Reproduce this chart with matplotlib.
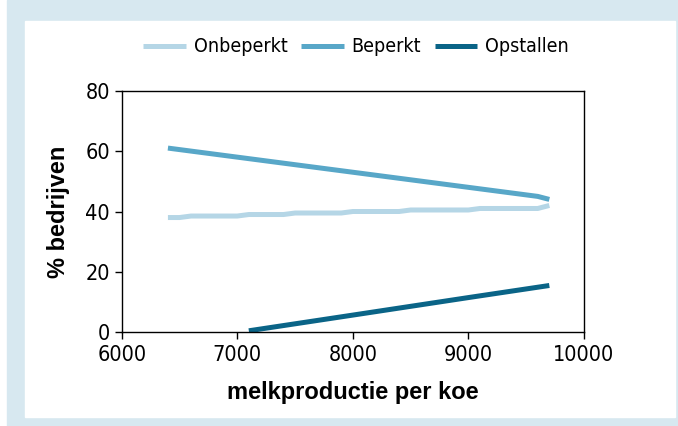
import matplotlib
matplotlib.use("Agg")
import matplotlib.pyplot as plt
from matplotlib.patches import Rectangle

# data
x_vals = [6400, 6500, 6600, 6700, 6800, 6900, 7000, 7100, 7200, 7300, 7400, 7500,
          7600, 7700, 7800, 7900, 8000, 8100, 8200, 8300, 8400, 8500, 8600, 8700,
          8800, 8900, 9000, 9100, 9200, 9300, 9400, 9500, 9600, 9700]
onbeperkt = [38, 38, 38.5, 38.5, 38.5, 38.5, 38.5, 39, 39, 39, 39, 39.5,
             39.5, 39.5, 39.5, 39.5, 40, 40, 40, 40, 40, 40.5, 40.5, 40.5,
             40.5, 40.5, 40.5, 41, 41, 41, 41, 41, 41, 42]
beperkt = [61, 60.5, 60, 59.5, 59, 58.5, 58, 57.5, 57, 56.5, 56, 55.5,
           55, 54.5, 54, 53.5, 53, 52.5, 52, 51.5, 51, 50.5, 50, 49.5,
           49, 48.5, 48, 47.5, 47, 46.5, 46, 45.5, 45, 44]
opst_x = [7100, 8000, 9000, 9700]
opstallen = [0.5, 5.7, 11.5, 15.5]

labels = ["Onbeperkt", "Beperkt", "Opstallen"]
colors = ["#b5d6e6", "#58a7c8", "#0a6487"]

bold = ["Liberation Sans", "DejaVu Sans"]
narrow = dict(family="DejaVu Sans", stretch="condensed")

fig = plt.figure(figsize=(6.78, 4.26), dpi=100)
fig.patches.append(Rectangle((7 / 678, 0), 671 / 678, 1, transform=fig.transFigure,
                             color="#d7e8f0", zorder=0))
fig.patches.append(Rectangle((25 / 678, 9 / 426), 650 / 678, 396 / 426,
                             transform=fig.transFigure, color="white", zorder=1))

ax = fig.add_axes([121.7 / 678, 1 - 332.3 / 426, (584 - 121.7) / 678, (332.3 - 90.7) / 426])
ax.set_zorder(3)
l1, = ax.plot(x_vals, onbeperkt, color=colors[0], lw=3.6, solid_capstyle="butt")
l2, = ax.plot(x_vals, beperkt, color=colors[1], lw=3.6, solid_capstyle="butt")
l3, = ax.plot(opst_x, opstallen, color=colors[2], lw=3.6, solid_capstyle="butt")

ax.set_xlim(6000, 10000)
ax.set_ylim(0, 80)
ax.set_xticks([6000, 7000, 8000, 9000, 10000])
ax.set_yticks([0, 20, 40, 60, 80])
ax.tick_params(direction="out", length=5, width=1, labelsize=15.5, color="black")
ax.tick_params(axis="x", pad=4)
for lab in ax.get_xticklabels() + ax.get_yticklabels():
    lab.set_family(narrow["family"])
    lab.set_stretch(narrow["stretch"])
for s in ax.spines.values():
    s.set_linewidth(1)

ax.set_xlabel("melkproductie per koe", fontsize=17, fontweight="bold", family=bold, labelpad=12)
ax.set_ylabel("% bedrijven", fontsize=17, fontweight="bold", family=bold, labelpad=11)

leg = fig.legend([l1, l2, l3], labels, loc="center", bbox_to_anchor=(0.525, 0.89), ncol=3,
                 frameon=False, handlelength=2.2, columnspacing=0.7, handletextpad=0.4,
                 prop={"family": narrow["family"], "stretch": narrow["stretch"], "size": 14})
leg.set_zorder(4)

plt.savefig("out.png", dpi=100)
